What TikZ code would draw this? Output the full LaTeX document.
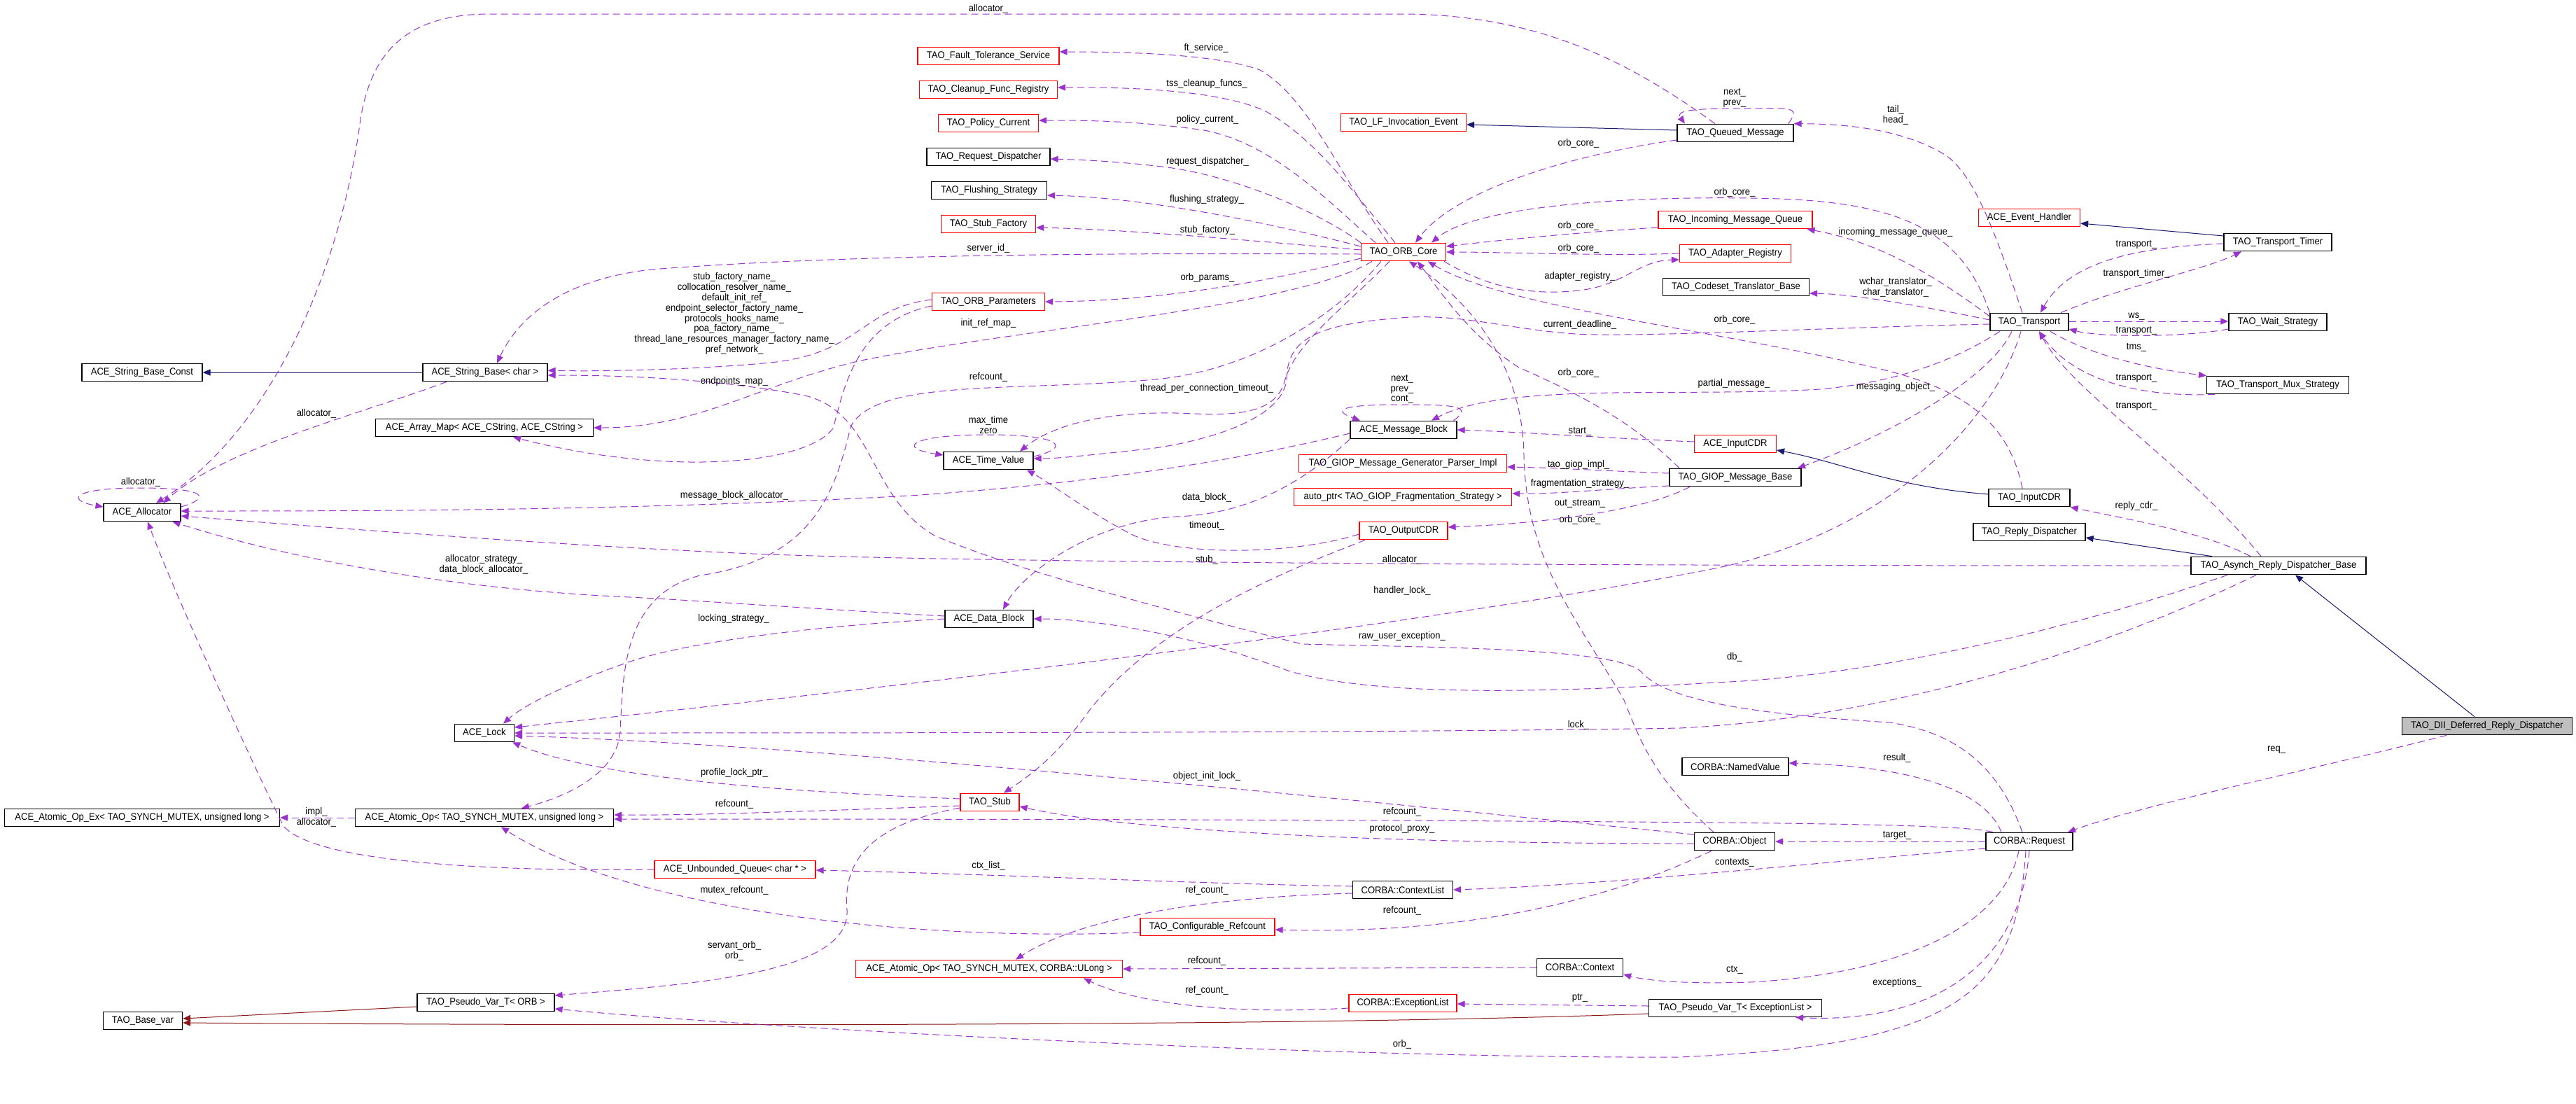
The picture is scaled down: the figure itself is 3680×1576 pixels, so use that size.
\documentclass[tikz,border=0pt]{standalone}
\usepackage{fontspec}
\newfontfamily\dfont{Liberation Sans}[FakeStretch=0.93]
\usetikzlibrary{arrows.meta}
\definecolor{usecol}{HTML}{9A32CD}
\definecolor{inhblue}{HTML}{191970}
\definecolor{inhred}{HTML}{8B1A1A}

\begin{document}
\begin{tikzpicture}[x=0.5pt, y=-0.5pt,
    every node/.style={font=\dfont\fontsize{7pt}{7.4pt}\selectfont},
    cls/.style={draw=black, line width=0.6pt, fill=white, inner xsep=4.5pt, inner ysep=0pt, minimum height=12.75pt},
    ext/.style={cls, draw=red},
    focus/.style={cls, fill=black!25},
    lbl/.style={inner sep=0pt, align=center},
    usage/.style={draw=usecol, line width=0.5pt, dash pattern=on 5pt off 3pt, -{Triangle[length=5.5pt, width=4.5pt]}},
    pubinh/.style={draw=inhblue, line width=0.5pt, -{Triangle[length=5.5pt, width=4.5pt]}},
    privinh/.style={draw=inhred, line width=0.5pt, -{Triangle[length=5.5pt, width=4.5pt]}}]

        \useasboundingbox (0,0) rectangle (3680,1576);

        \node[cls, minimum width=86pt] (sbc) at (203,532) {ACE\_String\_Base\_Const};
        \node[cls, minimum width=89pt] (sb) at (693,532) {ACE\_String\_Base< char >};
        \node[cls, minimum width=155.5pt] (am) at (692,611) {ACE\_Array\_Map< ACE\_CString, ACE\_CString >};
        \node[cls, minimum width=55pt] (alloc) at (203,732) {ACE\_Allocator};
        \node[cls, minimum width=42.5pt] (lock) at (692,1047) {ACE\_Lock};
        \node[cls, minimum width=196.5pt] (aoex) at (203,1168) {ACE\_Atomic\_Op\_Ex< TAO\_SYNCH\_MUTEX, unsigned long >};
        \node[cls, minimum width=184.5pt] (aoul) at (692,1168) {ACE\_Atomic\_Op< TAO\_SYNCH\_MUTEX, unsigned long >};
        \node[cls, minimum width=56.5pt] (basevar) at (204,1458) {TAO\_Base\_var};
        \node[cls, minimum width=98pt] (pvorb) at (694,1432) {TAO\_Pseudo\_Var\_T< ORB >};

        \node[ext, minimum width=101pt] (fts) at (1412,80) {TAO\_Fault\_Tolerance\_Service};
        \node[ext, minimum width=98.5pt] (cfr) at (1412,128) {TAO\_Cleanup\_Func\_Registry};
        \node[ext, minimum width=71.5pt] (pc) at (1412,176) {TAO\_Policy\_Current};
        \node[cls, minimum width=88pt] (rd) at (1412,224) {TAO\_Request\_Dispatcher};
        \node[cls, minimum width=82.5pt] (fs) at (1413,272) {TAO\_Flushing\_Strategy};
        \node[ext, minimum width=67.5pt] (sf) at (1412,320) {TAO\_Stub\_Factory};
        \node[ext, minimum width=80.5pt] (op) at (1412,431) {TAO\_ORB\_Parameters};
        \node[cls, minimum width=64pt] (tv) at (1412,658) {ACE\_Time\_Value};
        \node[cls, minimum width=63pt] (db) at (1413,884) {ACE\_Data\_Block};
        \node[ext, minimum width=42pt] (stub) at (1414,1146) {TAO\_Stub};
        \node[ext, minimum width=115pt] (uq) at (1050,1242) {ACE\_Unbounded\_Queue< char * >};
        \node[ext, minimum width=190.5pt] (aocu) at (1413,1384) {ACE\_Atomic\_Op< TAO\_SYNCH\_MUTEX, CORBA::ULong >};
        \node[ext, minimum width=96pt] (cr) at (1725,1324) {TAO\_Configurable\_Refcount};

        \node[ext, minimum width=89.5pt] (lfie) at (2005,175) {TAO\_LF\_Invocation\_Event};
        \node[ext, minimum width=60.5pt] (core) at (2005,360) {TAO\_ORB\_Core};
        \node[cls, minimum width=76pt] (mb) at (2005,614) {ACE\_Message\_Block};
        \node[ext, minimum width=148.5pt] (gmgp) at (2004,662) {TAO\_GIOP\_Message\_Generator\_Parser\_Impl};
        \node[ext, minimum width=155.5pt] (aptr) at (2004,710) {auto\_ptr< TAO\_GIOP\_Fragmentation\_Strategy >};
        \node[ext, minimum width=63pt] (ocdr) at (2005,758) {TAO\_OutputCDR};
        \node[cls, minimum width=71.5pt] (cl) at (2004,1271) {CORBA::ContextList};
        \node[ext, minimum width=77pt] (el) at (2004,1433) {CORBA::ExceptionList};
        \node[cls, minimum width=61.5pt] (ctx) at (2257,1382) {CORBA::Context};

        \node[cls, minimum width=83pt] (qm) at (2479,190) {TAO\_Queued\_Message};
        \node[ext, minimum width=110pt] (imq) at (2479,314) {TAO\_Incoming\_Message\_Queue};
        \node[ext, minimum width=79.5pt] (ar) at (2479,362) {TAO\_Adapter\_Registry};
        \node[cls, minimum width=104.5pt] (ctb) at (2480,410) {TAO\_Codeset\_Translator\_Base};
        \node[ext, minimum width=58.5pt] (icdr) at (2479,634) {ACE\_InputCDR};
        \node[cls, minimum width=94pt] (gmb) at (2479,682) {TAO\_GIOP\_Message\_Base};
        \node[cls, minimum width=76pt] (nv) at (2479,1095) {CORBA::NamedValue};
        \node[cls, minimum width=57.5pt] (obj) at (2478,1202) {CORBA::Object};
        \node[cls, minimum width=123.5pt] (pvel) at (2479,1440) {TAO\_Pseudo\_Var\_T< ExceptionList >};

        \node[ext, minimum width=72.5pt] (eh) at (2899,311) {ACE\_Event\_Handler};
        \node[cls, minimum width=56pt] (tr) at (2899,460) {TAO\_Transport};
        \node[cls, minimum width=58pt] (ticdr) at (2899,711) {TAO\_InputCDR};
        \node[cls, minimum width=80pt] (rdisp) at (2899,760) {TAO\_Reply\_Dispatcher};
        \node[cls, minimum width=62pt] (req) at (2899,1202) {CORBA::Request};
        \node[cls, minimum width=77pt] (tt) at (3254,346) {TAO\_Transport\_Timer};
        \node[cls, minimum width=70pt] (ws) at (3254,460) {TAO\_Wait\_Strategy};
        \node[cls, minimum width=101.5pt] (tms) at (3254,550) {TAO\_Transport\_Mux\_Strategy};
        \node[cls, minimum width=125pt] (ardb) at (3255,808) {TAO\_Asynch\_Reply\_Dispatcher\_Base};
        \node[focus, minimum width=121.5pt] (dii) at (3553,1037) {TAO\_DII\_Deferred\_Reply\_Dispatcher};

        \draw[pubinh] (sb.west) -- (sbc.east);
        \draw[pubinh] ([shift={(0,-4)}]qm.west) -- ([shift={(0,3)}]lfie.east);
        \draw[pubinh] ([shift={(0,-9)}]tt.west) -- ([shift={(0,8)}]eh.east);
        \draw[pubinh] ([shift={(0,-5)}]ticdr.west) .. controls (2700,695) and (2630,660) .. ([shift={(0,9)}]icdr.east);
        \draw[pubinh] ([shift={(-95,0)}]ardb.north) -- ([shift={(0,8)}]rdisp.east);
        \draw[pubinh] ([shift={(-18,0)}]dii.north) -- ([shift={(24,0)}]ardb.south);
        \draw[privinh] ([shift={(0,6)}]pvorb.west) -- ([shift={(0,-3)}]basevar.east);
        \draw[privinh] ([shift={(0,8)}]pvel.west) .. controls (1900,1465) and (1000,1466) .. ([shift={(0,3)}]basevar.east);

        \draw[usage] ([shift={(-29,0)}]qm.north) .. controls (2330,90) and (2200,20) .. (2000,20) -- (700,20)
            .. controls (575,20) and (530,80) .. (515,170) .. controls (485,400) and (380,620) .. ([shift={(20,0)}]alloc.north)
            node[lbl] (lalloc1) at (1412,13) {allocator\_};
        \draw[usage] ([shift={(-22,0)}]core.north) .. controls (1920,260) and (1870,140) .. (1800,100)
            .. controls (1740,78) and (1620,74) .. ([shift={(0,-6)}]fts.east) node[lbl] (lft) at (1723,69) {ft\_service\_};
        \draw[usage] ([shift={(-12,0)}]core.north) .. controls (1930,270) and (1880,200) .. (1810,160)
            .. controls (1750,130) and (1620,124) .. ([shift={(0,-3)}]cfr.east) node[lbl] (ltss) at (1724,120) {tss\_cleanup\_funcs\_};
        \draw[usage] ([shift={(-40,0)}]core.north) .. controls (1900,290) and (1820,205) .. (1720,186)
            .. controls (1620,172) and (1550,172) .. ([shift={(0,-4)}]pc.east) node[lbl] (lpol) at (1725,171) {policy\_current\_};
        \draw[usage] (core.north west) .. controls (1880,300) and (1760,250) .. (1660,238)
            .. controls (1590,230) and (1540,228) .. ([shift={(0,3)}]rd.east) node[lbl] (lrd) at (1725,231) {request\_dispatcher\_};
        \draw[usage] ([shift={(0,-8)}]core.west) .. controls (1820,320) and (1640,282) .. ([shift={(0,7)}]fs.east)
            node[lbl] (lfs) at (1724,285) {flushing\_strategy\_};
        \draw[usage] ([shift={(0,-3)}]core.west) .. controls (1800,345) and (1620,328) .. ([shift={(0,5)}]sf.east)
            node[lbl] (lsf) at (1725,329) {stub\_factory\_};
        \draw[usage] ([shift={(0,3)}]core.west) .. controls (1700,362) and (1250,360) .. (930,385)
            .. controls (800,400) and (740,455) .. ([shift={(17,0)}]sb.north) node[lbl] (lsid) at (1412,355) {server\_id\_};
        \draw[usage] ([shift={(0,9)}]core.west) .. controls (1800,405) and (1650,430) .. (op.east)
            node[lbl] (lop) at (1725,397) {orb\_params\_};
        \draw[usage] ([shift={(-45,0)}]core.south) .. controls (1850,440) and (1450,470) .. (1230,515)
            .. controls (1080,550) and (1000,611) .. (am.east) node[lbl] (lirm) at (1412,462) {init\_ref\_map\_};
        \draw[usage] ([shift={(-32,0)}]core.south) .. controls (1900,460) and (1780,530) .. (1650,542)
            .. controls (1450,560) and (1250,540) .. (1215,610) .. controls (1190,720) and (1150,800) .. (1000,822)
            .. controls (890,850) and (890,960) .. (886,1046) .. controls (880,1110) and (800,1140) .. ([shift={(53,0)}]aoul.north)
            node[lbl] (lrc1) at (1412,539) {refcount\_};
        \draw[usage] ([shift={(-20,0)}]core.south) .. controls (1920,440) and (1850,490) .. (1835,545)
            .. controls (1820,600) and (1740,592) .. (1680,590) .. controls (1570,588) and (1500,610) .. ([shift={(45,0)}]tv.north)
            node[lbl] (ltpc) at (1724,555) {thread\_per\_connection\_timeout\_};
        \draw[usage] ([shift={(0,-6)}]tv.east) .. controls (1530,640) and (1520,621) .. (1412,621)
            .. controls (1300,621) and (1280,640) .. ([shift={(0,-8)}]tv.west) node[lbl] (ltv) at (1412,607) {max\_time\\zero};
        \draw[usage] ([shift={(-3,0)}]core.south east) .. controls (2140,420) and (2210,420) .. (2255,415)
            .. controls (2320,408) and (2340,372) .. ([shift={(0,9)}]ar.west) node[lbl] (lar) at (2257,395) {adapter\_registry\_};
        \draw[usage] (ar.west) .. controls (2300,366) and (2150,360) .. (core.east)
            node[lbl] (loc4) at (2255,355) {orb\_core\_};
        \draw[usage] ([shift={(0,11)}]imq.west) .. controls (2280,330) and (2150,342) .. ([shift={(0,-8)}]core.east)
            node[lbl] (loc3) at (2255,323) {orb\_core\_};
        \draw[usage] ([shift={(0,10)}]qm.west) .. controls (2250,220) and (2080,270) .. ([shift={(17,0)}]core.north)
            node[lbl] (loc1) at (2255,205) {orb\_core\_};
        \draw[usage] (tr.north west) .. controls (2800,320) and (2700,285) .. (2500,283)
            .. controls (2280,280) and (2100,300) .. ([shift={(40,0)}]core.north) node[lbl] (loc2) at (2478,275) {orb\_core\_};
        \draw[usage] ([shift={(-10,0)}]ticdr.north) .. controls (2870,600) and (2800,555) .. (2690,528)
            .. controls (2450,470) and (2150,440) .. ([shift={(35,0)}]core.south) node[lbl] (loc5) at (2478,457) {orb\_core\_};
        \draw[usage] ([shift={(-80,0)}]gmb.north) .. controls (2330,600) and (2250,560) .. (2170,525)
            .. controls (2100,480) and (2060,420) .. ([shift={(20,0)}]core.south) node[lbl] (loc6) at (2255,533) {orb\_core\_};
        \draw[usage] ([shift={(-30,0)}]obj.north) .. controls (2360,1110) and (2340,1050) .. (2320,1000)
            .. controls (2250,880) and (2180,800) .. (2177,650) .. controls (2175,520) and (2100,430) .. ([shift={(8,0)}]core.south)
            node[lbl] (loc7) at (2257,743) {orb\_core\_};
        \draw[usage] ([shift={(0,3)}]tr.west) .. controls (2600,468) and (2350,482) .. (2250,477)
            .. controls (2150,470) and (2080,445) .. (1990,455) .. controls (1870,465) and (1840,490) .. (1838,540)
            .. controls (1836,590) and (1750,625) .. (1650,640) .. controls (1560,650) and (1510,655) .. ([shift={(0,-3)}]tv.east)
            node[lbl] (lcd) at (2257,464) {current\_deadline\_};

        \draw[usage] ([shift={(-10,0)}]tr.north) .. controls (2850,330) and (2820,250) .. (2780,222)
            .. controls (2720,185) and (2640,177) .. (qm.north east) node[lbl] (lth) at (2708,164) {tail\_\\head\_};
        \draw[usage] ([shift={(-8,0)}]qm.north east) .. controls (2575,150) and (2555,155) .. (2480,155)
            .. controls (2405,155) and (2395,160) .. ([shift={(-72,0)}]qm.north) node[lbl] (lqm) at (2478,140) {next\_\\prev\_};
        \draw[usage] ([shift={(0,-8)}]tr.west) .. controls (2760,390) and (2680,345) .. ([shift={(-8,0)}]imq.south east)
            node[lbl] (limq) at (2708,332) {incoming\_message\_queue\_};
        \draw[usage] ([shift={(0,-3)}]tr.west) .. controls (2760,440) and (2650,420) .. ([shift={(0,9)}]ctb.east)
            node[lbl] (lctb) at (2708,410) {wchar\_translator\_\\char\_translator\_};
        \draw[usage] ([shift={(-42,0)}]tr.south) .. controls (2800,510) and (2720,545) .. (2600,556)
            .. controls (2400,568) and (2150,545) .. ([shift={(40,0)}]mb.north) node[lbl] (lpm) at (2477,548) {partial\_message\_};
        \draw[usage] ([shift={(-25,0)}]tr.south) .. controls (2840,545) and (2690,625) .. ([shift={(89,0)}]gmb.north)
            node[lbl] (lmo) at (2708,553) {messaging\_object\_};
        \draw[usage] ([shift={(-12,0)}]tr.south) .. controls (2850,600) and (2700,760) .. (2450,812)
            .. controls (2000,900) and (1200,990) .. ([shift={(0,-8)}]lock.east) node[lbl] (lhl) at (2003,844) {handler\_lock\_};

        \draw[usage] ([shift={(0,2)}]tt.west) .. controls (3080,352) and (2960,365) .. ([shift={(16,0)}]tr.north)
            node[lbl] (ltr1) at (3052,349) {transport\_};
        \draw[usage] ([shift={(45,0)}]tr.north) .. controls (3030,410) and (3150,385) .. ([shift={(-52,0)}]tt.south)
            node[lbl] (ltt) at (3052,391) {transport\_timer\_};
        \draw[usage] ([shift={(0,-1)}]tr.east) -- ([shift={(0,-1)}]ws.west) node[lbl] (lws) at (3052,452) {ws\_};
        \draw[usage] ([shift={(0,10)}]ws.west) .. controls (3120,482) and (3000,482) .. ([shift={(0,10)}]tr.east)
            node[lbl] (ltr2) at (3052,472) {transport\_};
        \draw[usage] ([shift={(30,0)}]tr.south) .. controls (2990,510) and (3080,528) .. (tms.north west)
            node[lbl] (ltms) at (3052,496) {tms\_};
        \draw[usage] ([shift={(-90,0)}]tms.south) .. controls (3050,568) and (2960,540) .. ([shift={(14,0)}]tr.south)
            node[lbl] (ltr3) at (3052,540) {transport\_};
        \draw[usage] ([shift={(-25,0)}]ardb.north) .. controls (3120,660) and (2960,560) .. ([shift={(14,0)}]tr.south)
            node[lbl] (ltr4) at (3052,580) {transport\_};
        \draw[usage] ([shift={(-40,0)}]ardb.north) .. controls (3150,760) and (3030,740) .. (ticdr.south east)
            node[lbl] (lrcdr) at (3052,723) {reply\_cdr\_};

        \draw[usage] ([shift={(0,-3)}]icdr.west) .. controls (2300,626) and (2150,616) .. (mb.east)
            node[lbl] (lst) at (2257,616) {start\_};
        \draw[usage] ([shift={(0,-6)}]gmb.west) .. controls (2300,673) and (2220,668) .. ([shift={(0,5)}]gmgp.east)
            node[lbl] (lgi) at (2255,664) {tao\_giop\_impl\_};
        \draw[usage] ([shift={(0,12)}]gmb.west) .. controls (2300,698) and (2220,706) .. ([shift={(0,-5)}]aptr.east)
            node[lbl] (lfrag) at (2257,691) {fragmentation\_strategy\_};
        \draw[usage] ([shift={(-65,0)}]gmb.south) .. controls (2350,730) and (2200,748) .. ([shift={(0,-5)}]ocdr.east)
            node[lbl] (los) at (2257,719) {out\_stream\_};
        \draw[usage] ([shift={(-5,0)}]mb.north east) .. controls (2105,580) and (2080,578) .. (2000,578)
            .. controls (1920,578) and (1900,585) .. ([shift={(-62,0)}]mb.north) node[lbl] (lmb) at (2003,556) {next\_\\prev\_\\cont\_};
        \draw[usage] ([shift={(0,5)}]mb.west) .. controls (1800,650) and (1600,688) .. (1300,708)
            .. controls (900,730) and (500,730) .. ([shift={(0,-2)}]alloc.east) node[lbl] (lmba) at (1049,708) {message\_block\_allocator\_};
        \draw[usage] (mb.south west) .. controls (1850,700) and (1770,735) .. (1680,738)
            .. controls (1560,745) and (1460,820) .. ([shift={(20,0)}]db.north) node[lbl] (ldb) at (1724,711) {data\_block\_};
        \draw[usage] ([shift={(0,5)}]ocdr.west) .. controls (1850,792) and (1690,795) .. (1620,765)
            .. controls (1560,735) and (1500,690) .. ([shift={(55,0)}]tv.south) node[lbl] (lto) at (1724,751) {timeout\_};
        \draw[usage] ([shift={(-55,0)}]ocdr.south) .. controls (1880,800) and (1650,880) .. (1545,1030)
            .. controls (1500,1090) and (1460,1115) .. ([shift={(20,0)}]stub.north) node[lbl] (lstub) at (1724,800) {stub\_};

        \draw[usage] ([shift={(0,-4)}]db.west) .. controls (1200,872) and (1000,858) .. (900,853)
            .. controls (650,842) and (420,800) .. ([shift={(-12,0)}]alloc.south east)
            node[lbl] (lads) at (691,806) {allocator\_strategy\_\\data\_block\_allocator\_};
        \draw[usage] (db.west) .. controls (1200,892) and (1000,912) .. (900,945)
            .. controls (800,980) and (745,1010) .. ([shift={(27,0)}]lock.north) node[lbl] (lls) at (1048,884) {locking\_strategy\_};
        \draw[usage] ([shift={(-73,0)}]ardb.south) .. controls (3000,885) and (2700,965) .. (2450,975)
            .. controls (2200,990) and (1960,995) .. (1840,958) .. controls (1700,905) and (1560,884) .. (db.east)
            node[lbl] (ldbx) at (2478,939) {db\_};
        \draw[usage] ([shift={(-32,0)}]ardb.south) .. controls (3000,930) and (2700,1025) .. (2400,1040)
            .. controls (2000,1047) and (1200,1047) .. (lock.east) node[lbl] (llock) at (2255,1036) {lock\_};
        \draw[usage] (ardb.west) .. controls (2500,808) and (1500,806) .. (1100,792)
            .. controls (800,780) and (450,752) .. ([shift={(0,5)}]alloc.east) node[lbl] (lalloc4) at (2003,800) {allocator\_};
        \draw[usage] ([shift={(-10,0)}]req.north) .. controls (2850,1080) and (2780,1045) .. (2700,1032)
            .. controls (2500,1020) and (2380,1000) .. (2345,960) .. controls (2310,925) and (2050,925) .. (1860,920)
            .. controls (1700,880) and (1450,815) .. (1335,765) .. controls (1240,710) and (1250,590) .. (1150,565)
            .. controls (1020,540) and (880,536) .. ([shift={(0,4)}]sb.east) node[lbl] (lrue) at (2003,909) {raw\_user\_exception\_};

        \draw[usage] (uq.west) .. controls (700,1245) and (450,1232) .. (405,1180)
            .. controls (365,1100) and (250,850) .. ([shift={(8,0)}]alloc.south) node[lbl] (lalloc5) at (452,1175) {allocator\_};
        \draw[usage] ([shift={(-55,0)}]sb.south) .. controls (520,590) and (320,640) .. ([shift={(30,0)}]alloc.north)
            node[lbl] (lalloc2) at (452,591) {allocator\_};
        \draw[usage] ([shift={(0,-8)}]alloc.east) .. controls (300,712) and (300,697) .. (200,697)
            .. controls (100,697) and (95,715) .. ([shift={(0,-8)}]alloc.west) node[lbl] (lalloc3) at (201,689) {allocator\_};
        \draw[usage] (aoul.west) -- (aoex.east) node[lbl] (limpl) at (452,1160) {impl\_};
        \draw[usage] ([shift={(0,-5)}]stub.west) .. controls (1100,1130) and (850,1110) .. ([shift={(-3,0)}]lock.south east)
            node[lbl] (lplp) at (1049,1104) {profile\_lock\_ptr\_};
        \draw[usage] ([shift={(0,-10)}]obj.west) .. controls (2000,1150) and (1200,1065) .. ([shift={(0,4)}]lock.east)
            node[lbl] (loil) at (1724,1109) {object\_init\_lock\_};
        \draw[usage] ([shift={(0,3)}]obj.west) .. controls (1950,1205) and (1600,1185) .. ([shift={(0,6)}]stub.east)
            node[lbl] (lpp) at (2003,1184) {protocol\_proxy\_};
        \draw[usage] ([shift={(0,5)}]stub.west) .. controls (1200,1157) and (1000,1165) .. ([shift={(0,-4)}]aoul.east)
            node[lbl] (lrc2) at (1049,1149) {refcount\_};
        \draw[usage] ([shift={(-52,0)}]req.north) .. controls (2800,1176) and (2500,1175) .. (2000,1172)
            .. controls (1500,1170) and (1100,1170) .. ([shift={(0,2)}]aoul.east) node[lbl] (lrc3) at (2003,1160) {refcount\_};
        \draw[usage] ([shift={(0,8)}]stub.west) .. controls (1230,1180) and (1205,1240) .. (1210,1300)
            .. controls (1215,1390) and (1000,1405) .. ([shift={(0,-10)}]pvorb.east) node[lbl] (lso) at (1049,1358) {servant\_orb\_\\orb\_};
        \draw[usage] ([shift={(-5,0)}]req.south) .. controls (2880,1420) and (2800,1492) .. (2400,1510)
            .. controls (1900,1512) and (1100,1470) .. ([shift={(0,9)}]pvorb.east) node[lbl] (lorb) at (2003,1492) {orb\_};
        \draw[usage] (req.south) .. controls (2885,1380) and (2760,1462) .. ([shift={(86,0)}]pvel.south)
            node[lbl] (lexc) at (2710,1404) {exceptions\_};
        \draw[usage] ([shift={(-15,0)}]req.south) .. controls (2860,1330) and (2700,1392) .. (2500,1403)
            .. controls (2400,1406) and (2350,1400) .. ([shift={(0,10)}]ctx.east) node[lbl] (lctx) at (2478,1385) {ctx\_};
        \draw[usage] ([shift={(0,10)}]req.west) .. controls (2600,1232) and (2300,1264) .. (cl.east)
            node[lbl] (lctxs) at (2478,1232) {contexts\_};
        \draw[usage] (req.west) -- (obj.east) node[lbl] (ltgt) at (2710,1193) {target\_};
        \draw[usage] ([shift={(-40,0)}]req.north) .. controls (2840,1140) and (2760,1095) .. ([shift={(0,-5)}]nv.east)
            node[lbl] (lres) at (2710,1083) {result\_};
        \draw[usage] ([shift={(-58,0)}]dii.south) .. controls (3300,1100) and (3060,1150) .. ([shift={(55,0)}]req.north)
            node[lbl] (lreq) at (3252,1071) {req\_};

        \draw[usage] ([shift={(0,-5)}]cl.west) .. controls (1700,1262) and (1400,1248) .. ([shift={(0,1)}]uq.east)
            node[lbl] (lcl) at (1412,1237) {ctx\_list\_};
        \draw[usage] ([shift={(0,5)}]cl.west) .. controls (1780,1280) and (1560,1300) .. ([shift={(38,0)}]aocu.north)
            node[lbl] (lrfc1) at (1724,1272) {ref\_count\_};
        \draw[usage] (ctx.west) -- (aocu.east) node[lbl] (lrc4) at (1724,1373) {refcount\_};
        \draw[usage] ([shift={(0,7)}]el.west) .. controls (1750,1450) and (1620,1432) .. ([shift={(135,0)}]aocu.south)
            node[lbl] (lrfc2) at (1724,1415) {ref\_count\_};
        \draw[usage] ([shift={(0,-3)}]pvel.west) -- ([shift={(0,1)}]el.east) node[lbl] (lptr) at (2257,1425) {ptr\_};
        \draw[usage] ([shift={(-33,0)}]obj.south) .. controls (2300,1285) and (2100,1335) .. ([shift={(0,4)}]cr.east)
            node[lbl] (lrc5) at (2003,1301) {refcount\_};
        \draw[usage] ([shift={(0,8)}]cr.west) .. controls (1300,1345) and (900,1300) .. ([shift={(24,0)}]aoul.south)
            node[lbl] (lmrc) at (1049,1272) {mutex\_refcount\_};
        \draw[usage] ([shift={(0,-3)}]op.west) .. controls (1230,440) and (1230,505) .. (1100,518)
            .. controls (1000,528) and (850,531) .. ([shift={(0,-3)}]sb.east)
            node[lbl] (lopsb) at (1049,448) {stub\_factory\_name\_\\collocation\_resolver\_name\_\\default\_init\_ref\_\\endpoint\_selector\_factory\_name\_\\protocols\_hooks\_name\_\\poa\_factory\_name\_\\thread\_lane\_resources\_manager\_factory\_name\_\\pref\_network\_};
        \draw[usage] ([shift={(0,6)}]op.west) .. controls (1220,460) and (1205,560) .. (1190,612)
            .. controls (1150,665) and (950,680) .. ([shift={(41,0)}]am.south) node[lbl] (lem) at (1049,545) {endpoints\_map\_};
    \end{tikzpicture}
\end{document}
